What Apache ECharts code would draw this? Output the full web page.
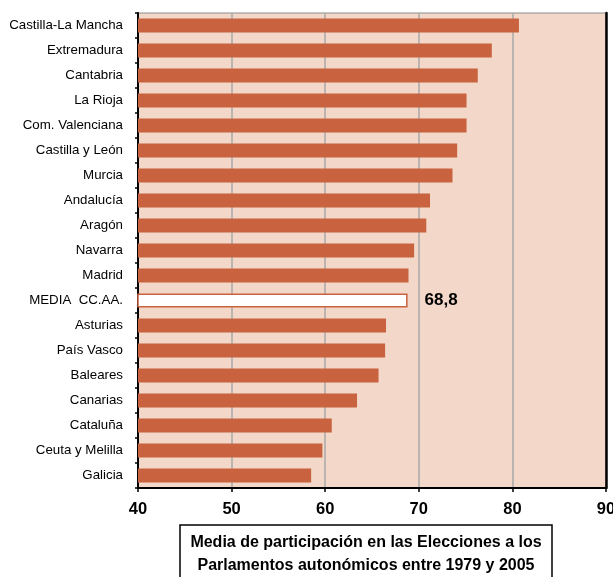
<!DOCTYPE html>
<html>
<head>
<meta charset="utf-8">
<script src="https://cdn.jsdelivr.net/npm/echarts@6/dist/echarts.min.js"></script>
<style>
  html, body { margin: 0; padding: 0; background: #fff; }
  #chart { width: 613px; height: 577px; }
</style>
</head>
<body>
<div id="chart"></div>
<script>
// datos: participación media por comunidad (de arriba a abajo)
const regiones = [
  'Castilla-La Mancha', 'Extremadura', 'Cantabria', 'La Rioja', 'Com. Valenciana',
  'Castilla y León', 'Murcia', 'Andalucía', 'Aragón', 'Navarra', 'Madrid',
  'MEDIA  CC.AA.', 'Asturias', 'País Vasco', 'Baleares', 'Canarias', 'Cataluña',
  'Ceuta y Melilla', 'Galicia'
]
const participacion = [
  80.7, 77.8, 76.3, 75.1, 75.1,
  74.1, 73.6, 71.2, 70.8, 69.5, 68.9,
  68.8, 66.5, 66.4, 65.7, 63.4, 60.7,
  59.7, 58.5
]
const mediaLabel = 'MEDIA  CC.AA.'
const ejeX = [40, 50, 60, 70, 80, 90]
const titulo = 'Media de participación en las Elecciones a los\nParlamentos autonómicos entre 1979 y 2005'

const barColor = '#C8623F'
const fontFam = '"Liberation Sans", Arial, sans-serif'

const chart = echarts.init(document.getElementById('chart'))

const serieData = participacion.map((v, i) => {
  if (regiones[i] === mediaLabel) {
    return {
      value: v,
      itemStyle: { color: '#fff', borderColor: barColor, borderWidth: 1.5 },
      label: {
        show: true,
        position: 'right',
        distance: 17,
        formatter: () => String(v).replace('.', ','),
        fontSize: 17,
        fontWeight: 'bold',
        color: '#000',
        fontFamily: fontFam
      }
    }
  }
  return v
})

chart.setOption({
  backgroundColor: '#fff',
  animation: false,
  title: {
    text: titulo,
    left: 355,
    top: 525,
    textAlign: 'center',
    padding: [6, 11, 20, 11],
    borderColor: '#000',
    borderWidth: 1.5,
    textStyle: {
      fontSize: 16,
      fontWeight: 'bold',
      color: '#000',
      lineHeight: 23,
      fontFamily: fontFam
    }
  },
  grid: {
    left: 138,
    right: 7,
    top: 13,
    bottom: 89,
    outerBoundsMode: 'none',
    show: true,
    backgroundColor: '#F3D8C9',
    borderColor: '#8C8C8C',
    borderWidth: 1
  },
  xAxis: {
    type: 'value',
    min: ejeX[0],
    max: ejeX[ejeX.length - 1],
    interval: 10,
    axisLine: { show: true, lineStyle: { color: '#000', width: 2 } },
    axisTick: { show: true, length: 4, lineStyle: { color: '#000', width: 1.5 } },
    axisLabel: {
      fontSize: 16.5,
      fontWeight: 'bold',
      color: '#000',
      margin: 13,
      fontFamily: fontFam
    },
    splitLine: { show: true, lineStyle: { color: '#A8A8A8', width: 1.5 } }
  },
  yAxis: [{
    type: 'category',
    data: regiones,
    inverse: true,
    axisLine: { show: true, lineStyle: { color: '#000', width: 2 } },
    axisTick: { show: true, length: 3, lineStyle: { color: '#000', width: 1.5 } },
    axisLabel: {
      fontSize: 13.3,
      color: '#000',
      margin: 15,
      fontFamily: fontFam
    },
    splitLine: { show: false }
  }, {
    // borde derecho negro
    type: 'category',
    data: regiones,
    inverse: true,
    position: 'right',
    axisLine: { show: true, lineStyle: { color: '#000', width: 2.5 } },
    axisTick: { show: false },
    axisLabel: { show: false },
    splitLine: { show: false }
  }],
  series: [{
    type: 'bar',
    data: serieData,
    barWidth: 14,
    itemStyle: { color: barColor }
  }]
})

window.addEventListener('resize', () => {
  chart.resize()
})
</script>
</body>
</html>
